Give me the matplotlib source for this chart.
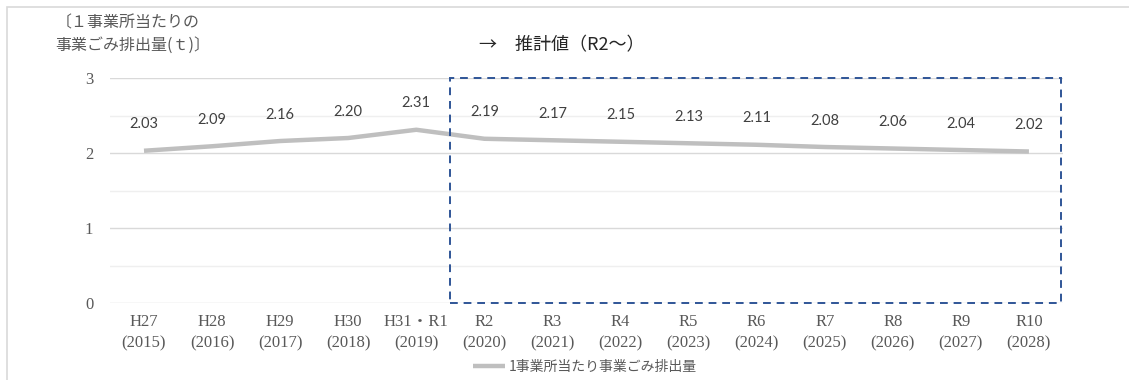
import numpy as np
import matplotlib.pyplot as plt
from matplotlib.patches import Rectangle

plt.rcParams['font.family'] = ['Noto Sans CJK JP', 'DejaVu Sans']

# データ
years = ['H27\n(2015)', 'H28\n(2016)', 'H29\n(2017)', 'H30\n(2018)', 'H31・R1\n(2019)',
         'R2\n(2020)', 'R3\n(2021)', 'R4\n(2022)', 'R5\n(2023)', 'R6\n(2024)',
         'R7\n(2025)', 'R8\n(2026)', 'R9\n(2027)', 'R10\n(2028)']
values = [2.03, 2.09, 2.16, 2.20, 2.31, 2.19, 2.17, 2.15, 2.13, 2.11, 2.08, 2.06, 2.04, 2.02]
series_name = '1事業所当たり事業ごみ排出量'
forecast_start = 5  # R2から推計値

fig = plt.figure(figsize=(11.29, 3.8), dpi=100)
ax = fig.add_axes([0.0974, 0.2026, 0.8441, 0.5921])

x = np.arange(len(years))
ax.plot(x, values, color='#BFBFBF', lw=3.2, solid_capstyle='butt', label=series_name, zorder=3)
for xi, v in zip(x, values):
    ax.annotate(f'{v:.2f}', (xi, v), xytext=(0, 14), textcoords='offset points',
                ha='center', va='bottom', fontsize=10.5, color='#404040', family=['Lato', 'DejaVu Sans'])

ax.set_xlim(-0.5, len(years) - 0.5)
ax.set_ylim(0, 3)
ax.set_yticks([0, 1, 2, 3])
ax.set_yticks(np.arange(0.5, 3, 1), minor=True)
ax.grid(axis='y', which='major', color='#D9D9D9', lw=1)
ax.grid(axis='y', which='minor', color='#EFEFEF', lw=1)
ax.set_axisbelow(True)
for s in ax.spines.values():
    s.set_visible(False)
ax.tick_params(which='both', length=0)
ax.tick_params(axis='y', pad=12)
ax.tick_params(axis='x', pad=8)
ax.set_xticks(x)
ax.set_xticklabels(years, linespacing=1.4)
for lab in ax.get_xticklabels() + ax.get_yticklabels():
    lab.set_family(['Liberation Serif', 'Noto Sans CJK JP'])
    lab.set_color('#595959')
    lab.set_fontsize(12)

# 推計値の枠
rect = Rectangle((forecast_start - 0.5, 0), len(years) - forecast_start - 0.03, 3,
                 fill=False, ls=(0, (4, 3)), lw=1.4, ec='#2F5597', clip_on=False, zorder=4)
ax.add_patch(rect)

fig.text(0.049, 0.962, '〔１事業所当たりの\n事業ごみ排出量(ｔ)〕', ha='left', va='top',
         fontsize=11.5, color='#595959', linespacing=1.45)
fig.text(0.424, 0.88, '→　推計値（R2～）', ha='left', va='center', fontsize=13, color='#262626')

ax.legend(loc='center', bbox_to_anchor=(585 / 1129, 0.034), bbox_transform=fig.transFigure,
          frameon=False, fontsize=10, labelcolor='#595959', handlelength=2.3, handletextpad=0.3,
          borderpad=0)

# 外枠
fig.add_artist(Rectangle((7 / 1129, -0.1), 1.2, (380 - 7) / 380 + 0.1, transform=fig.transFigure,
                         fill=False, ec='#D9D9D9', lw=1.2))

fig.savefig('out.png', dpi=100)
